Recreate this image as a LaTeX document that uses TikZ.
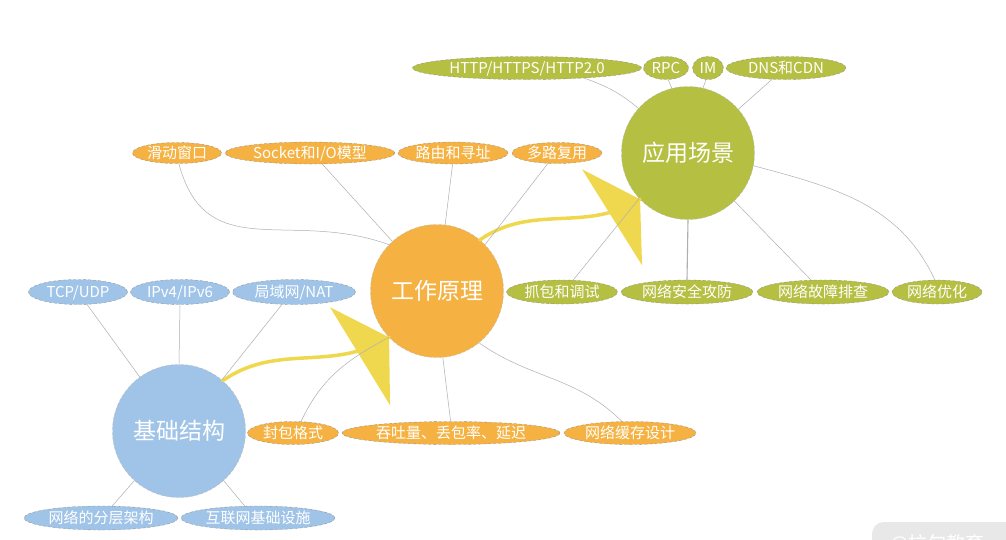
\documentclass[tikz,border=0pt]{standalone}
\usepackage{fontspec}
\setmainfont{Noto Sans CJK SC}
\usetikzlibrary{shapes.geometric}
\definecolor{cgreen}{RGB}{181,191,66}
\definecolor{corange}{RGB}{245,178,66}
\definecolor{cblue}{RGB}{159,196,232}
\definecolor{cyellow}{RGB}{240,216,78}
\definecolor{cline}{RGB}{175,175,175}
\definecolor{wmgray}{RGB}{232,232,232}
\begin{document}
\begin{tikzpicture}[x=1pt,y=-1pt,
  leaf/.style={ellipse, inner sep=0pt, text=white,
    font=\fontsize{15}{15}\selectfont, text height=12.2pt, text depth=1pt,
    draw=black!45, densely dashed, line width=0.3pt, minimum height=23pt},
  hub/.style={circle, inner sep=0pt, minimum size=133pt, text=white,
    font=\fontsize{23}{23}\selectfont, text height=19pt, text depth=1.5pt,
    draw=black!30, densely dashed, line width=0.3pt},
  conn/.style={draw=cline, line width=0.5pt},
  connthick/.style={draw=cline, line width=1.1pt},
  rel/.style={draw=cyellow, line width=3.5pt, line cap=round},
  relhead/.style={fill=cyellow}]
\fill[white] (0,0) rectangle (1006,539);
\useasboundingbox (0,0) rectangle (1006,539);

% hubs
\node[hub, fill=cgreen] (app) at (688,153) {应用场景};
\node[hub, fill=corange] (work) at (437,291) {工作原理};
\node[hub, fill=cblue] (base) at (179,431) {基础结构};

% top green
\node[leaf, fill=cgreen, minimum width=229pt] (http) at (527,68) {HTTP/HTTPS/HTTP2.0};
\node[leaf, fill=cgreen, minimum width=45pt] (rpc) at (666,68) {RPC};
\node[leaf, fill=cgreen, minimum width=31pt] (im) at (708,68) {IM};
\node[leaf, fill=cgreen, minimum width=120pt] (dns) at (786,68) {DNS和CDN};

% orange middle row
\node[leaf, fill=corange, minimum width=89pt, minimum height=21pt] (hd) at (177,153) {滑动窗口};
\node[leaf, fill=corange, minimum width=170pt, minimum height=22pt] (sk) at (310,153) {Socket和I/O模型};
\node[leaf, fill=corange, minimum width=110pt, minimum height=22pt] (ly) at (453,153) {路由和寻址};
\node[leaf, fill=corange, minimum width=90pt, minimum height=21pt] (dl) at (557,153) {多路复用};

% blue middle row
\node[leaf, fill=cblue, minimum width=99pt, minimum height=25pt] (tcp) at (78,292) {TCP/UDP};
\node[leaf, fill=cblue, minimum width=99pt, minimum height=25pt] (ipv) at (180,292) {IPv4/IPv6};
\node[leaf, fill=cblue, minimum width=123pt, minimum height=25pt] (lan) at (294,292) {局域网/NAT};

% green row
\node[leaf, fill=cgreen, minimum width=111pt, minimum height=24pt] (zb) at (562,292) {抓包和调试};
\node[leaf, fill=cgreen, minimum width=132pt, minimum height=24pt] (aq) at (687,292) {网络安全攻防};
\node[leaf, fill=cgreen, minimum width=132pt, minimum height=24pt] (gz) at (823,292) {网络故障排查};
\node[leaf, fill=cgreen, minimum width=90pt, minimum height=24pt] (yh) at (937,292) {网络优化};

% orange bottom row
\node[leaf, fill=corange, minimum width=91pt] (fb) at (293,433) {封包格式};
\node[leaf, fill=corange, minimum width=218pt] (tt) at (451,433) {吞吐量、丢包率、延迟};
\node[leaf, fill=corange, minimum width=132pt] (hc) at (630,433) {网络缓存设计};

% blue bottom row
\node[leaf, fill=cblue, minimum width=154pt, minimum height=24pt] (fc) at (101,518) {网络的分层架构};
\node[leaf, fill=cblue, minimum width=154pt, minimum height=24pt] (jc) at (258,518) {互联网基础设施};

% yellow relationship arrows
\draw[rel] (base.49) to[out=35,in=-148] (work.224);
\fill[relhead] (work.224) -- +(-59,-30) -- +(1,68) -- cycle;
\draw[rel] (work.50) to[out=35,in=-148] (app.224);
\fill[relhead] (app.224) -- +(-58,-30) -- +(2,66) -- cycle;

% connectors of 应用场景
\draw[conn] (http.-10) to[out=-20,in=140] (app.138);
\draw[conn] (rpc.-80) -- (app.104);
\draw[conn] (im.-100) -- (app.77);
\draw[conn] (dns.-141) -- (app.41);
\draw[conn] (app.223) -- (zb.47);
\draw[connthick] (app.south) -- (aq.north);
\draw[conn] (app.-46) -- (gz.135);
\draw[conn] (app.-11) to[out=-15,in=115] (yh.100);

% connectors of 工作原理
\draw[conn] (hd.-80) to[out=-75,in=160,looseness=1.2] (work.136);
\draw[conn] (sk.-42) -- (work.132);
\draw[conn] (ly.-92) -- (work.83);
\draw[conn] (dl.-131) -- (work.44);
\draw[conn] (fb.55) to[out=65,in=208] (work.224);
\draw[conn] (tt.92) -- (work.-85);
\draw[conn] (hc.125) to[out=135,in=-35] (work.-51);

% connectors of 基础结构
\draw[conn] (tcp.-54) -- (base.126);
\draw[conn] (ipv.south) -- (base.north);
\draw[conn] (lan.-134) -- (base.50);
\draw[conn] (fc.47) -- (base.-132);
\draw[conn] (jc.138) -- (base.-48);

% watermark (cut by the picture edge)
\begin{scope}
\clip (0,0) rectangle (1006,539);
\fill[wmgray, rounded corners=12pt] (872,522) rectangle (1040,580);
\node[text=white, font=\fontsize{19}{19}\selectfont, anchor=base west, inner sep=0pt] (wm) at (890,550) {@拉勾教育};
\end{scope}
\end{tikzpicture}
\end{document}
